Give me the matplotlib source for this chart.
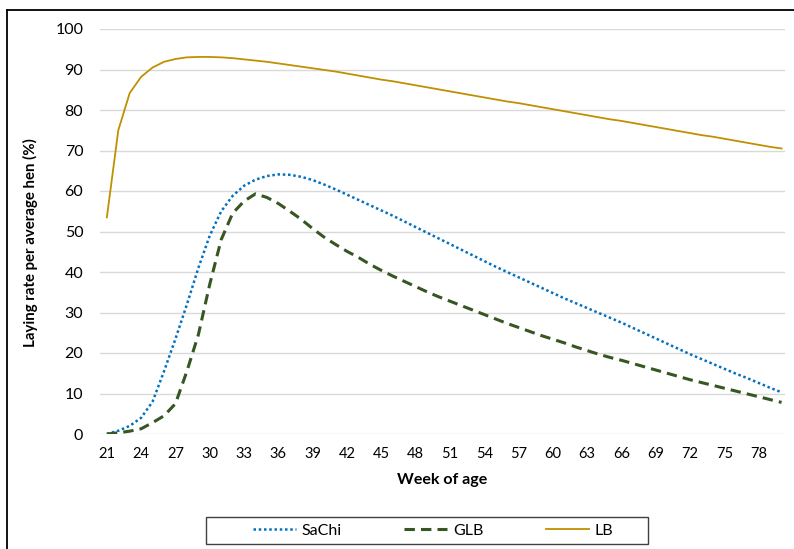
import matplotlib
matplotlib.use("Agg")
import matplotlib.pyplot as plt
from matplotlib.lines import Line2D
from matplotlib.patches import Rectangle

plt.rcParams['font.family'] = ['Lato', 'DejaVu Sans']

weeks = list(range(21, 81))

sachi = [0.0, 0.8, 2.0, 4.0, 8.0, 15.5, 23.5, 32.0, 41.0, 49.0,
         55.0, 58.8, 61.3, 62.8, 63.7, 64.1, 64.0, 63.5, 62.7, 61.6,
         60.4, 59.1, 57.8, 56.5, 55.2, 53.9, 52.5, 51.1, 49.7, 48.3,
         46.9, 45.5, 44.1, 42.7, 41.3, 40.0, 38.7, 37.4, 36.1, 34.8,
         33.5, 32.3, 31.1, 29.9, 28.7, 27.5, 26.2, 24.9, 23.6, 22.3,
         21.0, 19.7, 18.5, 17.3, 16.1, 14.9, 13.8, 12.6, 11.4, 10.3]

glb = [0.0, 0.3, 0.7, 1.3, 2.8, 4.5, 7.5, 15.5, 24.5, 37.0,
       48.0, 54.5, 57.5, 59.3, 58.4, 56.9, 55.0, 53.0, 50.7, 48.6,
       46.8, 45.1, 43.6, 41.9, 40.4, 39.0, 37.7, 36.4, 35.1, 33.9,
       32.8, 31.7, 30.6, 29.5, 28.4, 27.3, 26.3, 25.3, 24.3, 23.4,
       22.5, 21.5, 20.6, 19.7, 18.9, 18.2, 17.4, 16.6, 15.8, 15.0,
       14.2, 13.4, 12.7, 12.0, 11.3, 10.6, 9.9, 9.2, 8.5, 7.8]

lb = [53.5, 75.0, 84.2, 88.2, 90.5, 91.9, 92.6, 93.0, 93.1, 93.1,
      93.0, 92.8, 92.5, 92.2, 91.9, 91.5, 91.1, 90.7, 90.3, 89.9,
      89.5, 89.0, 88.5, 88.0, 87.5, 87.1, 86.6, 86.1, 85.6, 85.1,
      84.6, 84.1, 83.6, 83.1, 82.6, 82.1, 81.7, 81.2, 80.7, 80.2,
      79.7, 79.2, 78.7, 78.2, 77.7, 77.3, 76.8, 76.3, 75.8, 75.3,
      74.8, 74.3, 73.8, 73.4, 72.9, 72.4, 71.9, 71.4, 70.9, 70.5]

x_ticks = list(range(21, 81, 3))
y_ticks = list(range(0, 101, 10))

W, H = 794, 549


def laying_chart():
    fig = plt.figure(figsize=(W / 100, H / 100), dpi=100)
    ax = fig.add_axes([100 / W, 1 - 434 / H, 685 / W, 405 / H])

    ax.plot(weeks, sachi, color='#0070C0', lw=1.8, linestyle=(0, (1, 1.1)), label='SaChi')
    ax.plot(weeks, glb, color='#375623', lw=2.2, linestyle=(0, (3.4, 2.0)), label='GLB')
    ax.plot(weeks, lb, color='#BF9000', lw=1.3, label='LB')

    ax.set_xlim(20.4, 80.3)
    ax.set_ylim(0, 100)
    ax.set_xticks(x_ticks)
    ax.set_yticks(y_ticks)
    ax.grid(True, axis='y', color='#d9d9d9', lw=1.0)
    ax.set_axisbelow(True)
    for s in ax.spines.values():
        s.set_visible(False)
    ax.tick_params(axis='x', length=0, pad=9, labelsize=10.5, colors='black')
    ax.tick_params(axis='y', length=0, pad=12, labelsize=11.5, colors='black')

    fig.text(442 / W, 1 - 480 / H, 'Week of age', ha='center', va='center',
             fontsize=11.5, fontweight='bold')
    fig.text(30 / W, 1 - 243 / H, 'Laying rate per average hen (%)', ha='center',
             va='center', rotation=90, fontsize=10.8, fontweight='bold')

    # legend box drawn by hand
    fig.patches.append(Rectangle((206 / W, 1 - 544 / H), 442 / W, 27 / H,
                                 transform=fig.transFigure, fill=False,
                                 edgecolor='#404040', lw=1.0))
    fig.legend(loc='center', bbox_to_anchor=(433 / W, 1 - 530.5 / H), ncol=3,
               frameon=False, fontsize=11.5, handlelength=2.7,
               handletextpad=0.35, columnspacing=3.9)

    # outer frame (only top and left edges visible)
    fig.lines.append(Line2D([6.5 / W, 1], [1 - 9.5 / H, 1 - 9.5 / H],
                            transform=fig.transFigure, color='black', lw=1.3))
    fig.lines.append(Line2D([6.5 / W, 6.5 / W], [0, 1 - 9.5 / H],
                            transform=fig.transFigure, color='black', lw=1.3))

    fig.savefig('out.png', dpi=100)


if __name__ == "__main__":
    laying_chart()
